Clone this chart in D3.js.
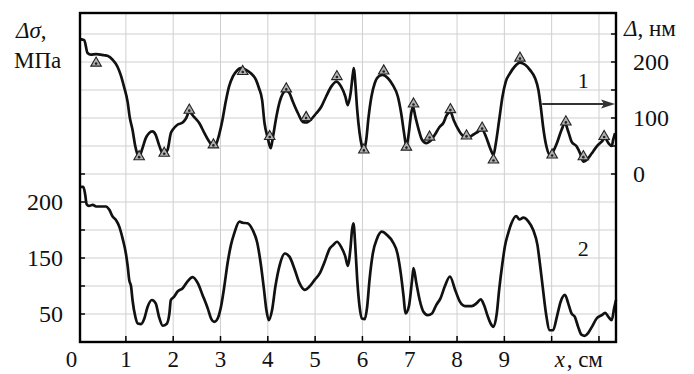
<!DOCTYPE html>
<html><head><meta charset="utf-8">
<script src="https://cdn.jsdelivr.net/npm/d3@7/dist/d3.min.js"></script>
<style>body{margin:0;background:#fff}svg{display:block}</style>
</head><body><svg id="c" width="694" height="374"></svg>
<script>
// x positions, cm
const x1 = [0.03,0.12,0.19,0.26,0.37,0.54,0.61,0.72,0.82,0.89,0.96,1.04,1.08,1.14,1.20,1.25,1.28,1.35,1.42,1.49,1.56,1.63,1.70,1.78,1.81,1.88,1.95,1.99,2.09,2.20,2.27,2.34,2.44,2.55,2.66,2.76,2.85,2.90,2.97,3.04,3.11,3.18,3.26,3.33,3.43,3.54,3.64,3.75,3.81,3.88,3.93,4.00,4.06,4.11,4.18,4.25,4.32,4.39,4.46,4.53,4.64,4.74,4.81,4.92,5.02,5.13,5.23,5.34,5.45,5.55,5.64,5.69,5.75,5.80,5.82,5.85,5.89,5.94,5.99,6.03,6.08,6.13,6.19,6.26,6.34,6.43,6.54,6.64,6.75,6.82,6.88,6.93,6.98,7.03,7.07,7.12,7.19,7.26,7.35,7.42,7.53,7.63,7.71,7.78,7.86,7.93,8.03,8.13,8.24,8.34,8.45,8.53,8.61,8.70,8.77,8.82,8.89,8.96,9.03,9.12,9.22,9.33,9.44,9.54,9.65,9.72,9.77,9.82,9.89,9.96,10.03,10.11,10.21,10.28,10.35,10.42,10.53,10.60,10.67,10.74,10.85,10.95,11.06,11.13,11.20,11.27,11.30,11.34];
// curve 1: Δ, nm
const delta = [241,239,216,213,214,212,211,204,192,177,156,127,102,79,49,34,31,46,64,73,76,70,52,37,37,43,73,79,88,92,99,111,102,91,73,58,49,52,70,96,129,156,174,183,189,186,180,168,154,132,91,64,46,67,102,129,144,149,144,129,108,93,92,98,108,120,138,156,165,156,138,123,144,180,189,162,114,73,49,40,61,102,138,162,174,177,171,159,138,108,73,49,73,108,120,102,79,61,55,58,70,84,91,105,111,96,79,68,66,70,76,79,67,46,34,55,96,138,165,180,192,199,195,186,171,150,120,84,49,34,40,55,79,91,76,58,49,37,22,25,37,49,58,64,55,50,61,73];
// markers on curve 1
const markX = [0.37,1.28,1.81,2.34,2.85,3.47,4.04,4.39,4.81,5.46,6.03,6.45,6.93,7.08,7.42,7.86,8.20,8.53,8.77,9.33,10.01,10.30,10.67,11.11];
const markDelta = [198,31,37,114,52,183,67,152,101,174,43,184,48,125,66,115,68,82,25,207,34,93,31,67];
// curve 2: Δσ, MPa
const x2 = [0.03,0.10,0.14,0.17,0.22,0.30,0.37,0.47,0.58,0.65,0.72,0.79,0.86,0.93,1.00,1.04,1.07,1.11,1.14,1.20,1.25,1.32,1.39,1.46,1.55,1.63,1.70,1.78,1.86,1.92,1.95,2.02,2.09,2.20,2.30,2.41,2.52,2.62,2.73,2.80,2.87,2.94,3.01,3.08,3.15,3.22,3.29,3.40,3.47,3.57,3.68,3.78,3.86,3.92,3.97,4.02,4.09,4.16,4.25,4.36,4.46,4.57,4.67,4.78,4.88,4.99,5.10,5.20,5.31,5.38,5.46,5.55,5.64,5.69,5.75,5.78,5.81,5.85,5.89,5.94,5.99,6.05,6.10,6.15,6.22,6.31,6.41,6.52,6.64,6.74,6.81,6.87,6.91,6.98,7.05,7.08,7.14,7.21,7.29,7.38,7.47,7.56,7.65,7.74,7.85,7.96,8.06,8.17,8.31,8.41,8.50,8.57,8.64,8.71,8.77,8.84,8.89,8.96,9.01,9.08,9.15,9.25,9.32,9.40,9.51,9.61,9.70,9.75,9.81,9.88,9.96,10.03,10.11,10.19,10.28,10.35,10.42,10.49,10.56,10.63,10.70,10.77,10.85,10.95,11.06,11.13,11.20,11.27,11.32,11.36];
const sigma = [277,277,263,246,243,245,242,242,242,236,224,218,206,185,158,134,111,99,75,45,33,32,42,63,75,69,45,29,32,51,75,81,90,96,108,116,105,84,60,42,36,42,63,99,141,173,194,215,213,212,200,176,134,93,57,39,57,99,137,158,152,129,105,93,99,111,123,143,167,173,179,170,152,136,170,200,212,170,111,63,42,41,63,111,158,185,197,191,179,158,123,81,51,63,111,132,105,75,54,48,51,66,78,99,117,93,72,64,64,69,76,66,48,33,27,51,93,141,170,194,212,225,219,222,215,200,173,141,99,51,21,21,45,72,84,69,51,45,27,13,11,16,27,42,48,52,45,39,60,75];
// axes
const xTicks = [0,1,2,3,4,5,6,7,8,9];
const xGrid = [1,2,3,4,5,6,7,8,9,10,11];
const leftTickPos = [250,150,50];
const leftTickLabels = ["200","150","50"];
const leftMinor = [50,100,150,200,250,300];
const rightTicks = [0,100,200];
const rightMinor = [0,50,100,150,200,250];
const gridLevels = [50,100,150,200,250,300,350,400,450,500,550];

const svg = d3.select("#c");
const L = 80, R = 616, T = 13, B = 342;
const x = d3.scaleLinear().domain([0.03, 11.36]).range([L, R]);
const yBot = d3.scaleLinear().domain([0, 587.5]).range([B, T]);
const yTop = d3.scaleLinear().domain([-300, 287.5]).range([B, T]);
const font = "'Liberation Serif','Times New Roman',serif";

// grid
const g = svg.append("g").attr("stroke", "#cfcfcf").attr("stroke-width", 1);
xGrid.forEach(v => g.append("line").attr("x1", x(v)).attr("x2", x(v)).attr("y1", T).attr("y2", B));
gridLevels.forEach(v => g.append("line").attr("x1", L).attr("x2", R).attr("y1", yBot(v)).attr("y2", yBot(v)));

// ticks (inward)
const tk = svg.append("g").attr("stroke", "#000").attr("stroke-width", 1.5);
xGrid.forEach(v => tk.append("line").attr("x1", x(v)).attr("x2", x(v)).attr("y1", B).attr("y2", B - 6));
leftMinor.forEach(v => tk.append("line").attr("x1", L).attr("x2", L + 5).attr("y1", yBot(v)).attr("y2", yBot(v)));
rightMinor.forEach(v => tk.append("line").attr("x1", R).attr("x2", R - 5).attr("y1", yTop(v)).attr("y2", yTop(v)));

// curves
const line1 = d3.line().x(d => x(d[0])).y(d => yTop(d[1])).curve(d3.curveMonotoneX);
const line2 = d3.line().x(d => x(d[0])).y(d => yBot(d[1])).curve(d3.curveMonotoneX);
svg.append("path").attr("d", line1(x1.map((v, i) => [v, delta[i]])))
  .attr("fill", "none").attr("stroke", "#111").attr("stroke-width", 2.7).attr("stroke-linejoin", "round");
svg.append("path").attr("d", line2(x2.map((v, i) => [v, sigma[i]])))
  .attr("fill", "none").attr("stroke", "#111").attr("stroke-width", 2.7).attr("stroke-linejoin", "round");

// markers
const tri = d3.symbol().type(d3.symbolTriangle).size(48);
markX.forEach((v, i) => {
  const mg = svg.append("g").attr("transform", `translate(${x(v)},${yTop(markDelta[i])})`);
  mg.append("path").attr("d", tri()).attr("fill", "#b0b0b0").attr("stroke", "#222").attr("stroke-width", 1.1);
  mg.append("circle").attr("r", 1.3).attr("cy", 0.5).attr("fill", "#222");
});

// frame
svg.append("rect").attr("x", L).attr("y", T).attr("width", R - L).attr("height", B - T)
  .attr("fill", "none").attr("stroke", "#000").attr("stroke-width", 2.4);

// arrow for curve 1
const ay = yTop(125);
svg.append("line").attr("x1", x(9.8)).attr("x2", R - 10).attr("y1", ay).attr("y2", ay)
  .attr("stroke", "#333").attr("stroke-width", 2);
svg.append("path").attr("d", `M${R - 1},${ay} L${R - 15},${ay - 4.5} L${R - 12},${ay} L${R - 15},${ay + 4.5} Z`).attr("fill", "#333");

// texts
const txt = (s, px, py, anchor, size, style) => svg.append("text").attr("x", px).attr("y", py)
  .attr("text-anchor", anchor).attr("font-family", font).attr("font-size", size)
  .attr("font-style", style || "normal").attr("fill", "#111").text(s);

xTicks.forEach(v => txt(String(v), x(v) + (v === 0 ? -7 : 0), 367, "middle", 23));
txt("x", x(10) + 3, 367, "start", 23, "italic");
svg.append("text").attr("x", x(10) + 15).attr("y", 367).attr("font-family", font).attr("font-size", 23).attr("fill", "#111").text(", см");

leftTickPos.forEach((v, i) => txt(leftTickLabels[i], 63, yBot(v) + 8, "end", 24));
rightTicks.forEach(v => txt(String(v), 633, yTop(v) + 8, "start", 24));

svg.append("text").attr("x", 16).attr("y", 38).attr("font-family", font).attr("font-size", 23).attr("fill", "#111")
  .html('<tspan font-style="italic">Δσ</tspan>,');
txt("МПа", 14, 68, "start", 23);
svg.append("text").attr("x", 624).attr("y", 36).attr("font-family", font).attr("font-size", 23).attr("fill", "#111")
  .html('<tspan font-style="italic">Δ</tspan>, нм');

txt("1", x(10.67), yTop(167) + 8, "middle", 22);
txt("2", x(10.67), yBot(168) + 8, "middle", 22);
</script></body></html>
